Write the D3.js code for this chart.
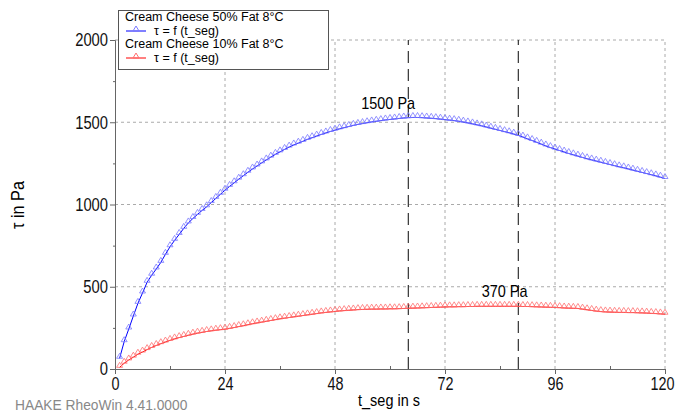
<!DOCTYPE html>
<html>
<head>
<meta charset="utf-8">
<script src="https://cdn.jsdelivr.net/npm/d3@7"></script>
<style>
  body { margin: 0; background: #fff; }
  svg { display: block; }
  .tick text { font-family: "Liberation Sans", Arial, sans-serif; font-size: 18px; fill: #111; }
  .axis path, .axis line { stroke: #666; }
</style>
</head>
<body>
<script>
// chart values
var times = d3.range(1, 121);
var fat50 = [65,166,243,322,399,462,527,570,608,648,697,743,782,818,855,888,915,940,964,986,
  1012,1037,1062,1087,1110,1132,1154,1175,1196,1216,1234,1253,1271,1288,1305,1320,1335,1349,1362,1373,
  1384,1396,1406,1416,1426,1435,1444,1452,1460,1467,1474,1481,1487,1492,1497,1502,1506,1510,1514,1517,
  1520,1523,1526,1528,1529,1529,1528,1526,1524,1522,1519,1516,1513,1510,1506,1501,1496,1490,1484,1478,
  1471,1464,1457,1450,1443,1436,1428,1420,1410,1399,1389,1378,1367,1356,1346,1337,1328,1319,1310,1302,
  1294,1286,1278,1271,1264,1257,1250,1243,1236,1229,1223,1216,1209,1202,1195,1188,1181,1174,1166,1158];
var fat10 = [10,35,55,72,90,103,118,131,143,154,164,174,183,191,198,205,212,218,223,228,
  232,236,239,242,247,252,258,263,269,275,280,285,290,295,300,305,309,313,317,321,
  325,329,333,337,341,344,347,350,353,355,357,359,361,362,363,364,364,365,365,366,
  366,367,368,369,370,371,372,373,374,375,376,377,378,378,379,379,380,380,381,381,
  381,381,381,381,381,381,381,381,380,380,379,378,377,376,375,374,373,371,370,369,
  368,364,360,356,352,349,347,346,345,344,344,343,343,342,341,340,338,337,335,333];
var seriesNames = ["Cream Cheese 50% Fat 8°C", "Cream Cheese 10% Fat 8°C"];
var seriesLabel = "τ = f (t_seg)";
var xTicks = [0, 24, 48, 72, 96, 120];
var xMinor = [12, 36, 60, 84, 108];
var yTicks = [0, 500, 1000, 1500, 2000];
var yMinor = [250, 750, 1250, 1750];
var cursorTimes = [64, 88];
var notes = [{t: 59.6, v: 1580, text: "1500 Pa"}, {t: 85, v: 438, text: "370 Pa"}];

var svgWidth = 677, svgHeight = 413;
var svg = d3.select("body").append("svg")
  .attr("width", svgWidth)
  .attr("height", svgHeight);

var x = d3.scaleLinear().domain([0, 120]).range([115, 665]);
var y = d3.scaleLinear().domain([0, 2000]).range([369, 40]);

// squeeze text like the narrow font of the original
function narrow(sel, k) {
  sel.each(function() {
    var w = this.getComputedTextLength();
    if (w > 0) d3.select(this).attr("textLength", w * k).attr("lengthAdjust", "spacingAndGlyphs");
  });
}

// grid
svg.append("g").selectAll("line").data(xTicks.slice(1))
  .join("line")
  .attr("x1", d => x(d)).attr("x2", d => x(d))
  .attr("y1", y(0)).attr("y2", y(2000))
  .attr("stroke", "#aaa").attr("stroke-dasharray", "3,3");
svg.append("g").selectAll("line").data(yTicks.slice(1))
  .join("line")
  .attr("x1", x(0)).attr("x2", x(120))
  .attr("y1", d => y(d)).attr("y2", d => y(d))
  .attr("stroke", "#aaa").attr("stroke-dasharray", "3,3");

// axes
var xAxis = svg.append("g").attr("class", "axis")
  .attr("transform", `translate(0,${y(0)})`)
  .call(d3.axisBottom(x).tickValues(xTicks).tickFormat(d3.format("d")).tickSize(5).tickPadding(3).tickSizeOuter(0));
svg.append("g").attr("class", "axis")
  .attr("transform", `translate(0,${y(0)})`)
  .call(d3.axisTop(x).tickValues(xMinor).tickSize(3).tickFormat("").tickSizeOuter(0));
var yAxis = svg.append("g").attr("class", "axis")
  .attr("transform", `translate(${x(0)},0)`)
  .call(d3.axisLeft(y).tickValues(yTicks).tickFormat(d3.format("d")).tickSize(5).tickPadding(2).tickSizeOuter(0));
svg.append("g").attr("class", "axis")
  .attr("transform", `translate(${x(0)},0)`)
  .call(d3.axisLeft(y).tickValues(yMinor).tickSize(2).tickFormat("").tickSizeOuter(0));
narrow(xAxis.selectAll("text"), 0.8);
narrow(yAxis.selectAll("text"), 0.82);
// last x label sits against the right edge
xAxis.selectAll("text").filter(d => d === 120).attr("text-anchor", "end").attr("dx", 9);

// cursor lines
svg.append("g").selectAll("line").data(cursorTimes)
  .join("line")
  .attr("x1", d => x(d)).attr("x2", d => x(d))
  .attr("y1", y(0)).attr("y2", y(2000))
  .attr("stroke", "#333").attr("stroke-width", 1.2).attr("stroke-dasharray", "12,6");

function tri(px, py) {
  return `M${px - 3},${py}L${px + 3},${py}L${px},${py - 5}Z`;
}

function drawSeries(vals, lineCol, markCol) {
  var pts = times.map((t, i) => [t, vals[i]]);
  svg.append("path").datum(pts)
    .attr("fill", "none").attr("stroke", lineCol).attr("stroke-width", 1)
    .attr("d", d3.line().x(d => x(d[0])).y(d => y(d[1])));
  svg.append("g").selectAll("path").data(pts)
    .join("path")
    .attr("d", d => tri(x(d[0]), y(d[1])))
    .attr("fill", "none").attr("stroke", markCol).attr("stroke-width", 0.8);
}
drawSeries(fat50, "#0000ff", "#7a7aff");
drawSeries(fat10, "#ff0000", "#ff7070");

// annotations
var noteText = svg.append("g").selectAll("text").data(notes)
  .join("text")
  .attr("x", d => x(d.t)).attr("y", d => y(d.v))
  .attr("text-anchor", "middle")
  .style("font-family", "'Liberation Sans', Arial, sans-serif")
  .style("font-size", "17px")
  .text(d => d.text);
narrow(noteText, 0.85);

// legend
var lg = svg.append("g");
lg.append("rect").attr("x", 118.5).attr("y", 10.5).attr("width", 210).attr("height", 59)
  .attr("fill", "#fff").attr("stroke", "#555");
var legCols = [["#0000ff", "#7a7aff"], ["#ff0000", "#ff7070"]];
seriesNames.forEach(function(name, i) {
  var top = 21 + i * 27;
  lg.append("text").attr("x", 125).attr("y", top)
    .style("font-family", "'Liberation Sans', Arial, sans-serif").style("font-size", "12.5px")
    .text(name);
  lg.append("line").attr("x1", 126).attr("x2", 146).attr("y1", top + 10).attr("y2", top + 10)
    .attr("stroke", legCols[i][0]);
  lg.append("path").attr("d", tri(136, top + 10)).attr("fill", "none").attr("stroke", legCols[i][1]);
  lg.append("text").attr("x", 154).attr("y", top + 14)
    .style("font-family", "'Liberation Sans', Arial, sans-serif").style("font-size", "12.5px")
    .text(seriesLabel);
});

// axis titles
var xTitle = svg.append("text").attr("x", 389).attr("y", 406).attr("text-anchor", "middle")
  .style("font-family", "'Liberation Sans', Arial, sans-serif").style("font-size", "17px")
  .text("t_seg in s");
var yTitle = svg.append("text").attr("transform", "translate(24,205) rotate(-90)").attr("text-anchor", "middle")
  .style("font-family", "'Liberation Sans', Arial, sans-serif").style("font-size", "18px")
  .text("τ in Pa");
var credit = svg.append("text").attr("x", 15).attr("y", 410)
  .style("font-family", "'Liberation Sans', Arial, sans-serif").style("font-size", "14.5px")
  .attr("fill", "#888")
  .text("HAAKE RheoWin 4.41.0000");
narrow(xTitle, 0.85);
narrow(yTitle, 0.9);
narrow(credit, 0.95);
</script>
</body>
</html>
